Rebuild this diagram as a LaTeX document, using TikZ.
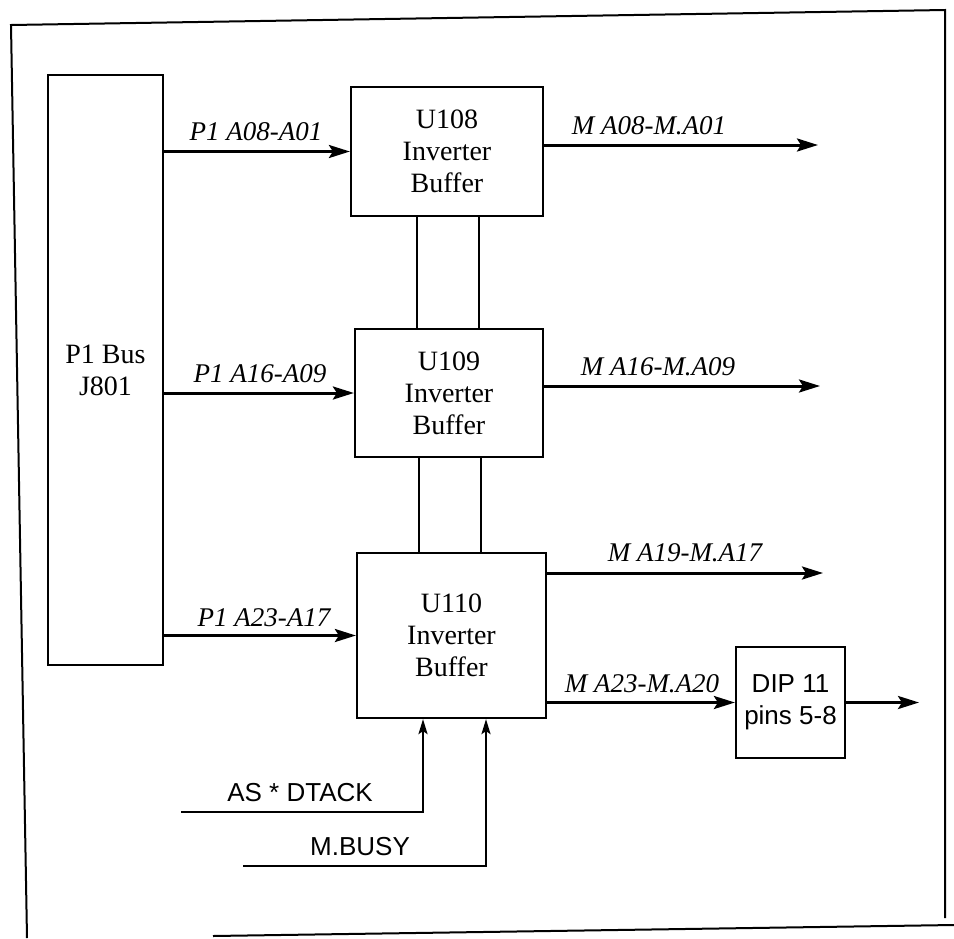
\documentclass[tikz,border=0pt]{standalone}
\usepackage{fontspec}
\setmainfont{Liberation Serif}
\newfontfamily\sansf{Liberation Sans}
\usetikzlibrary{arrows.meta}
\tikzset{
  blk/.style={draw, line width=2.2pt, inner sep=0pt, align=center,
    font=\fontsize{28}{32}\selectfont},
  arr/.style={line width=3pt, -{Stealth[length=21pt,width=13pt,inset=4pt]}},
  uparr/.style={line width=2.2pt, -{Stealth[length=15pt,width=9pt,inset=3pt]}},
  thin/.style={line width=1.6pt},
  lbl/.style={font=\fontsize{27}{32}\selectfont\itshape, inner sep=0pt},
  slbl/.style={font=\fontsize{26}{30}\selectfont\sansf, inner sep=0pt},
  frame/.style={line width=2pt}
}
\begin{document}
\begin{tikzpicture}[x=1pt,y=-1pt]
\useasboundingbox (0,0) rectangle (954,938);
% page frame
\draw[frame] (27,938) -- (11,25) -- (945,10) -- (945,918);
\draw[frame] (213,936) -- (954,925);
% blocks
\node[blk, minimum width=115pt, minimum height=590pt] (P1) at (105.5,370)
  {P1 Bus\\J801};
\node[blk, minimum width=192pt, minimum height=129pt] (U108) at (447,151.5)
  {U108\\Inverter\\Buffer};
\node[blk, minimum width=188pt, minimum height=128pt] (U109) at (449,393)
  {U109\\Inverter\\Buffer};
\node[blk, minimum width=189pt, minimum height=165pt] (U110) at (451.5,635.5)
  {U110\\Inverter\\Buffer};
\node[blk, minimum width=109pt, minimum height=111pt,
  font=\fontsize{26}{32}\selectfont\sansf] (DIP) at (790.5,702.5)
  {DIP 11\\pins 5-8};
% free ends
\coordinate (o1) at (818,145);
\coordinate (o2) at (820,386);
\coordinate (o3) at (823,573);
\coordinate (o4) at (919,702.5);
\coordinate (asst) at (181,812);
\coordinate (mbst) at (243,866);
% inputs from P1 bus
\draw[arr] (P1.east |- U108.west) -- (U108.west);
\draw[arr] (P1.east |- U109.west) -- (U109.west);
\draw[arr] (P1.east |- U110.west) -- (U110.west);
% outputs
\draw[arr] (U108.east |- o1) -- (o1);
\draw[arr] (U109.east |- o2) -- (o2);
\draw[arr] (U110.east |- o3) -- (o3);
\draw[arr] (U110.east |- DIP.west) -- (DIP.west);
\draw[arr] (DIP.east) -- (o4);
% links between buffers
\draw[thin] (U108.south -| 417,0) -- (U109.north -| 417,0);
\draw[thin] (U108.south -| 479,0) -- (U109.north -| 479,0);
\draw[thin] (U109.south -| 419,0) -- (U110.north -| 419,0);
\draw[thin] (U109.south -| 481,0) -- (U110.north -| 481,0);
% control inputs
\draw[uparr] (asst) -- (423,812) -- (U110.south -| 423,0);
\draw[uparr] (mbst) -- (486,866) -- (U110.south -| 486,0);
% labels
\node[lbl] at (256,132) {P1 A08-A01};
\node[lbl] at (649,126) {M A08-M.A01};
\node[lbl] at (260,374) {P1 A16-A09};
\node[lbl] at (658,367) {M A16-M.A09};
\node[lbl] at (685,553) {M A19-M.A17};
\node[lbl] at (264,618) {P1 A23-A17};
\node[lbl] at (642,684) {M A23-M.A20};
\node[slbl] at (300,793) {AS * DTACK};
\node[slbl] at (360,847) {M.BUSY};
\end{tikzpicture}
\end{document}
